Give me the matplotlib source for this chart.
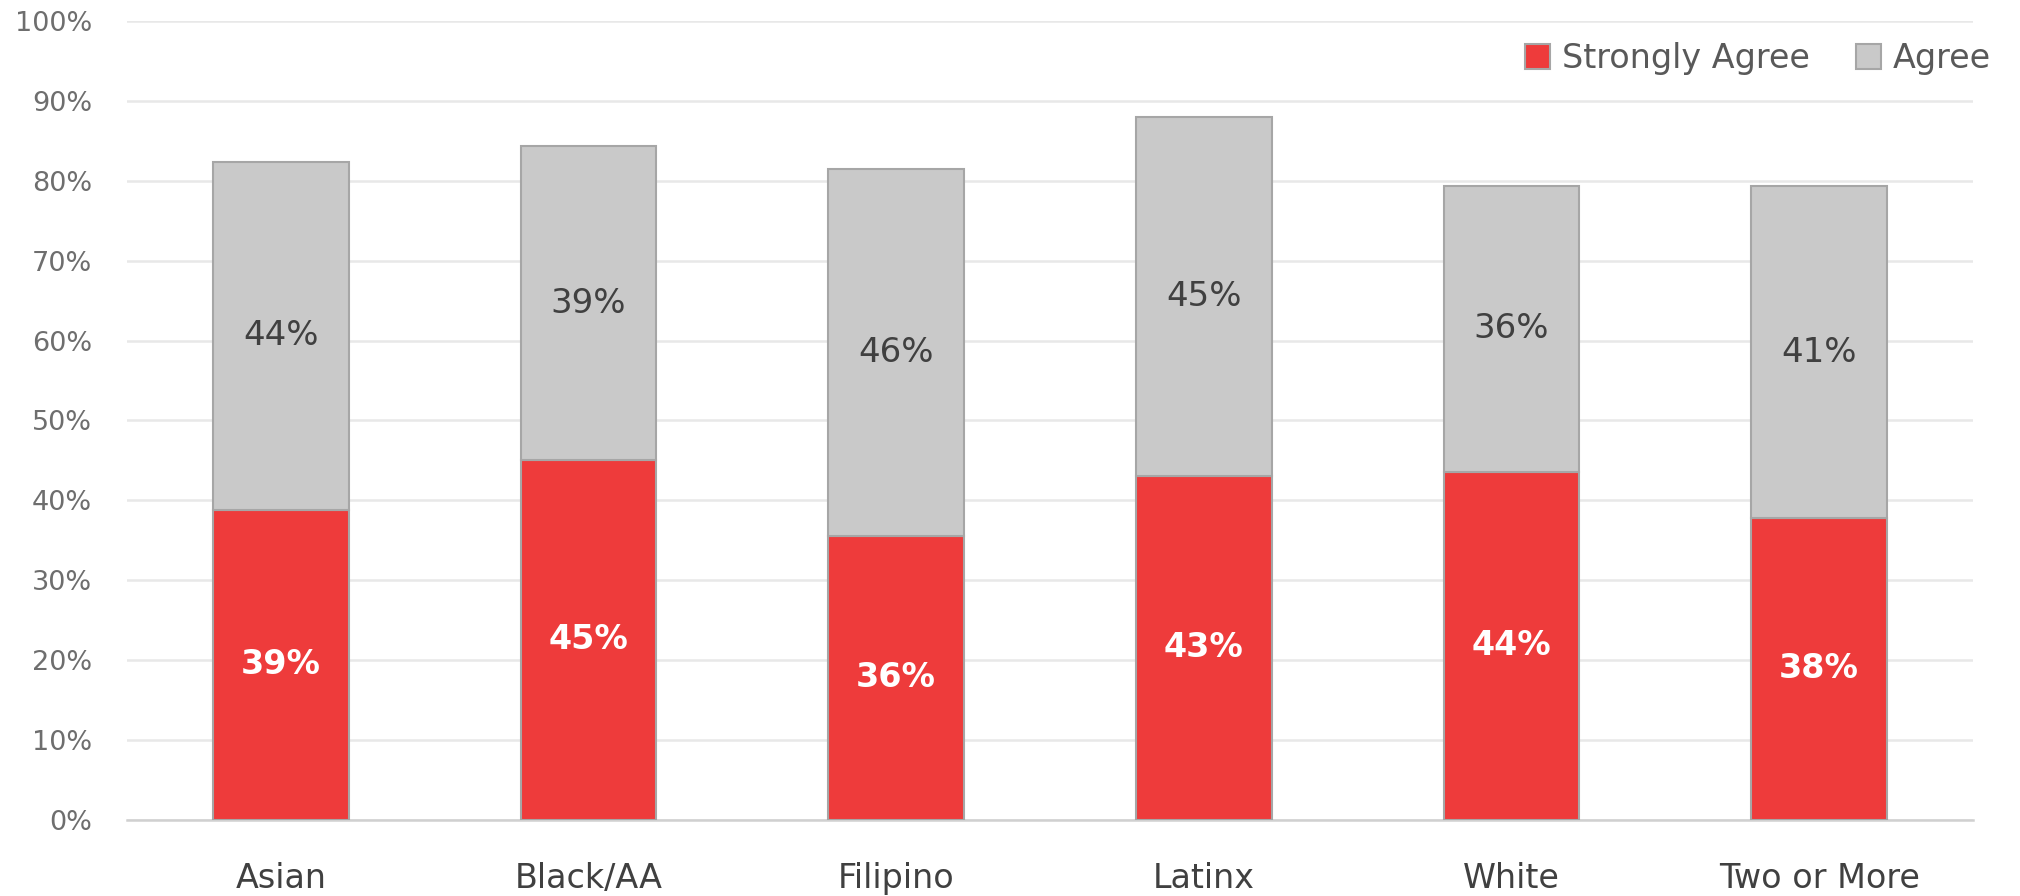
import matplotlib.pyplot as plt
import numpy as np
from matplotlib.ticker import FuncFormatter

plt.rcParams['font.family'] = ['DejaVu Sans']

categories = ['Asian', 'Black/AA', 'Filipino', 'Latinx', 'White', 'Two or More']
strongly_agree = [38.8, 45.1, 35.6, 43.1, 43.6, 37.8]
agree = [43.6, 39.2, 45.9, 44.9, 35.8, 41.5]
sa_labels = ['39%', '45%', '36%', '43%', '44%', '38%']
ag_labels = ['44%', '39%', '46%', '45%', '36%', '41%']

red = '#EE3B3B'
grey = '#C9C9C9'
edge = '#A6A6A6'

fig = plt.figure(figsize=(20.2, 8.96), dpi=100)
ax = fig.add_axes([127/2020, 1-820/896, (1973-127)/2020, (820-21)/896])

x = np.arange(len(categories))
w = 0.44
ax.bar(x, strongly_agree, w, color=red, edgecolor=edge, linewidth=1.5,
       label='Strongly Agree', zorder=3)
ax.bar(x, agree, w, bottom=strongly_agree, color=grey, edgecolor=edge,
       linewidth=1.5, label='Agree', zorder=3)

for i in range(len(categories)):
    ax.text(x[i], strongly_agree[i] / 2, sa_labels[i], ha='center', va='center',
            color='white', fontsize=24, fontweight='bold', zorder=4)
    ax.text(x[i], strongly_agree[i] + agree[i] / 2, ag_labels[i], ha='center',
            va='center', color='#404040', fontsize=24.5, zorder=4)

ax.set_xlim(-0.5, len(categories) - 0.5)
ax.set_ylim(0, 100)
ax.set_yticks(np.arange(0, 101, 10))
ax.yaxis.set_major_formatter(FuncFormatter(lambda v, p: '%d%%' % v))
ax.set_xticks(x)
ax.set_xticklabels(categories)
ax.grid(axis='y', color='#E8E8E8', linewidth=1.8, zorder=0)
for s in ['top', 'right', 'left']:
    ax.spines[s].set_visible(False)
ax.spines['bottom'].set_color('#D0D0D0')
ax.spines['bottom'].set_linewidth(1.8)
ax.tick_params(axis='y', length=0, pad=25, labelsize=19.5, labelcolor='#6E6E6E')
ax.tick_params(axis='x', length=0, pad=30, labelsize=24, labelcolor='#404040')

ax.legend(loc='upper right', bbox_to_anchor=(1.017, 0.99), ncol=2, frameon=False,
          fontsize=24, labelcolor='#595959', handlelength=0.75, handleheight=0.75,
          handletextpad=0.35, columnspacing=1.4, borderaxespad=0)

fig.savefig('out.png', dpi=100)
